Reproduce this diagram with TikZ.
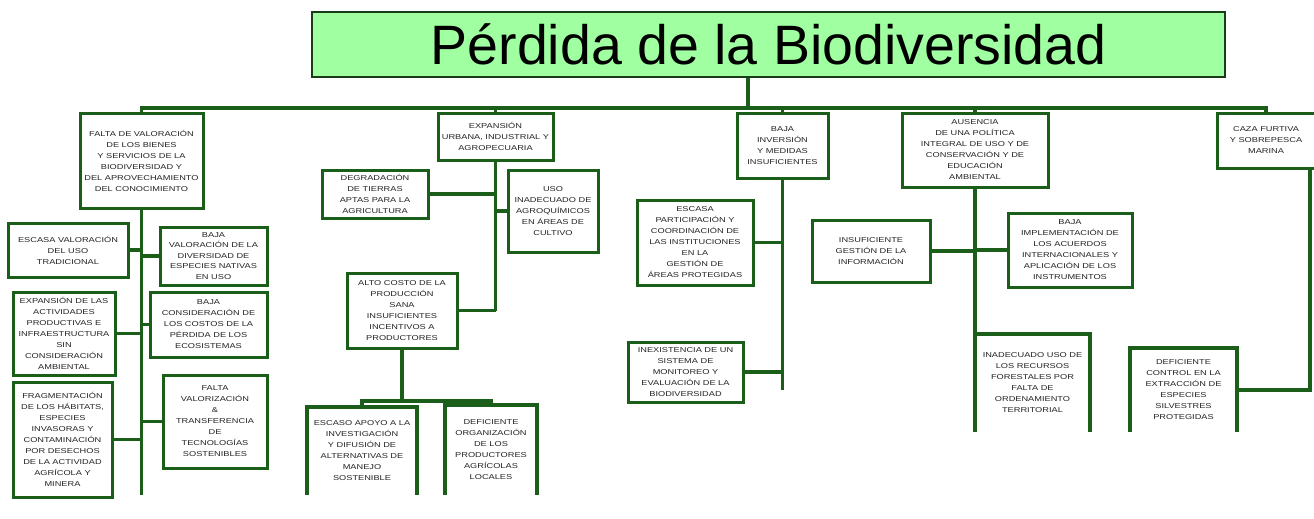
\documentclass[tikz,border=0pt]{standalone}
\usepackage{fontspec}
\setmainfont{Liberation Sans}
\newfontfamily\bxfont[FakeStretch=1.3]{Liberation Sans}
\definecolor{lineg}{RGB}{26,94,26}
\definecolor{titlefill}{RGB}{160,255,160}
\definecolor{titleline}{RGB}{25,60,25}
\definecolor{txtc}{RGB}{35,35,35}
\tikzset{
  bx/.style={draw=lineg, line width=3pt, fill=white, inner sep=0pt, outer sep=0pt,
    align=center, font=\bxfont\fontsize{7.1}{11}\selectfont, text=txtc},
  obx/.style={bx, draw=none},
  conn/.style={draw=lineg, line width=3.2pt},
}
\begin{document}
\begin{tikzpicture}[x=1pt,y=-1pt]
\useasboundingbox (0,0) rectangle (1314,519);
\fill[white] (0,0) rectangle (1314,519);

\node[draw=titleline, line width=1.6pt, fill=titlefill, minimum width=913pt, minimum height=65pt,
  inner sep=0pt, font=\fontsize{55.5}{60}\selectfont] (title) at (768.5,44.5) {Pérdida de la Biodiversidad};

% top level
\node[bx, minimum width=123pt, minimum height=95pt] (A) at (141.5,160.5)
  {FALTA DE VALORACIÓN\\DE LOS BIENES\\Y SERVICIOS DE LA\\BIODIVERSIDAD Y\\DEL APROVECHAMIENTO\\DEL CONOCIMIENTO};
\node[bx, minimum width=115pt, minimum height=47pt] (B) at (495.5,136.5)
  {EXPANSIÓN\\URBANA, INDUSTRIAL Y\\AGROPECUARIA};
\node[bx, minimum width=91pt, minimum height=65pt] (C) at (782.5,145.5)
  {BAJA\\INVERSIÓN\\Y MEDIDAS\\INSUFICIENTES};
\node[bx, minimum width=146pt, minimum height=74pt] (D) at (975,150)
  {AUSENCIA\\DE UNA POLÍTICA\\INTEGRAL DE USO Y DE\\CONSERVACIÓN Y DE\\EDUCACIÓN\\AMBIENTAL};
\node[bx, minimum width=98pt, minimum height=55pt] (E) at (1266,140.5)
  {CAZA FURTIVA\\Y SOBREPESCA\\MARINA};

% left branch
\node[bx, minimum width=120pt, minimum height=54pt] (F) at (68,250)
  {ESCASA VALORACIÓN\\DEL USO\\TRADICIONAL};
\node[bx, minimum width=107pt, minimum height=58pt, font=\bxfont\fontsize{7.1}{10.5}\selectfont] (G) at (213.5,256)
  {BAJA\\VALORACIÓN DE LA\\DIVERSIDAD DE\\ESPECIES NATIVAS\\EN USO};
\node[bx, minimum width=102pt, minimum height=83pt] (H) at (64,333.5)
  {EXPANSIÓN DE LAS\\ACTIVIDADES\\PRODUCTIVAS E\\INFRAESTRUCTURA\\SIN\\CONSIDERACIÓN\\AMBIENTAL};
\node[bx, minimum width=117pt, minimum height=65pt] (I) at (208.5,324.5)
  {BAJA\\CONSIDERACIÓN DE\\LOS COSTOS DE LA\\PÉRDIDA DE LOS\\ECOSISTEMAS};
\node[bx, minimum width=99pt, minimum height=115pt] (J) at (62.5,439.5)
  {FRAGMENTACIÓN\\DE LOS HÁBITATS,\\ESPECIES\\INVASORAS Y\\CONTAMINACIÓN\\POR DESECHOS\\DE LA ACTIVIDAD\\AGRÍCOLA Y\\MINERA};
\node[bx, minimum width=104pt, minimum height=93pt] (K) at (215,421.5)
  {FALTA\\VALORIZACIÓN\\\&\\TRANSFERENCIA\\DE\\TECNOLOGÍAS\\SOSTENIBLES};

% middle branch
\node[bx, minimum width=106pt, minimum height=48pt] (L) at (375,194)
  {DEGRADACIÓN\\DE TIERRAS\\APTAS PARA LA\\AGRICULTURA};
\node[bx, minimum width=90pt, minimum height=82pt] (M) at (553,211)
  {USO\\INADECUADO DE\\AGROQUÍMICOS\\EN ÁREAS DE\\CULTIVO};
\node[bx, minimum width=110pt, minimum height=75pt] (N) at (402,310.5)
  {ALTO COSTO DE LA\\PRODUCCIÓN\\SANA\\INSUFICIENTES\\INCENTIVOS A\\PRODUCTORES};
\node[obx, minimum width=110pt, minimum height=88pt] (O) at (362,451)
  {ESCASO APOYO A LA\\INVESTIGACIÓN\\Y DIFUSIÓN DE\\ALTERNATIVAS DE\\MANEJO\\SOSTENIBLE};
\node[obx, minimum width=92pt, minimum height=90pt] (P) at (491,450)
  {DEFICIENTE\\ORGANIZACIÓN\\DE LOS\\PRODUCTORES\\AGRÍCOLAS\\LOCALES};

% centre-right branch
\node[bx, minimum width=116pt, minimum height=85pt] (Q) at (695,242.5)
  {ESCASA\\PARTICIPACIÓN Y\\COORDINACIÓN DE\\LAS INSTITUCIONES\\EN LA\\GESTIÓN DE\\ÁREAS PROTEGIDAS};
\node[bx, minimum width=115pt, minimum height=60pt] (R) at (685.5,372)
  {INEXISTENCIA DE UN\\SISTEMA DE\\MONITOREO Y\\EVALUACIÓN DE LA\\BIODIVERSIDAD};

% right branch
\node[bx, minimum width=118pt, minimum height=62pt] (S) at (871,251)
  {INSUFICIENTE\\GESTIÓN DE LA\\INFORMACIÓN};
\node[bx, minimum width=124pt, minimum height=74pt] (T) at (1070,250)
  {BAJA\\IMPLEMENTACIÓN DE\\LOS ACUERDOS\\INTERNACIONALES Y\\APLICACIÓN DE LOS\\INSTRUMENTOS};
\node[obx, minimum width=115pt, minimum height=98pt] (U) at (1032.5,383)
  {INADECUADO USO DE\\LOS RECURSOS\\FORESTALES POR\\FALTA DE\\ORDENAMIENTO\\TERRITORIAL};
\node[obx, minimum width=107pt, minimum height=84pt] (V) at (1183.5,390)
  {DEFICIENTE\\CONTROL EN LA\\EXTRACCIÓN DE\\ESPECIES\\SILVESTRES\\PROTEGIDAS};

% open boxes
\draw[conn] (O.south west) -- (O.north west) -- (O.north east) -- (O.south east);
\draw[conn] (P.south west) -- (P.north west) -- (P.north east) -- (P.south east);
\draw[conn] (U.north west) -- (U.north east) -- (U.south east);
\draw[conn] (V.south west) -- (V.north west) -- (V.north east) -- (V.south east);

% connectors
\coordinate (bus) at (748,108);
\draw[conn] (bus |- title.south) -- (bus);
\draw[conn] (A.north) |- (bus);
\draw[conn] (E.north) |- (bus);
\draw[conn] (B.north) -- (B.north |- bus);
\draw[conn] (C.north) -- (C.north |- bus);
\draw[conn] (D.north) -- (D.north |- bus);

\coordinate (ls) at (141.5,495);
\draw[conn] (A.south) -- (ls);
\draw[conn] (F.east) -- (F.east -| ls);
\draw[conn] (G.west) -- (G.west -| ls);
\draw[conn] (H.east) -- (H.east -| ls);
\draw[conn] (I.west) -- (I.west -| ls);
\draw[conn] (J.east) -- (J.east -| ls);
\draw[conn] (K.west) -- (K.west -| ls);

\coordinate (bs) at (495.5,310.5);
\draw[conn] (B.south) -- (bs);
\draw[conn] (L.east) -- (L.east -| bs);
\draw[conn] (M.west) -- (M.west -| bs);
\draw[conn] (N.east) -- (bs);
\coordinate (op) at (402,401);
\draw[conn] (N.south) -- (op);
\draw[conn] (O.north) |- (op) -| (P.north);

\coordinate (cs) at (782.5,390);
\draw[conn] (C.south) -- (cs);
\draw[conn] (Q.east) -- (Q.east -| cs);
\draw[conn] (R.east) -- (R.east -| cs);

\draw[conn] (D.south) -- (U.south west);
\draw[conn] (S.east) -- (S.east -| D.south);
\draw[conn] (T.west) -- (T.west -| D.south);

\coordinate (es) at (1310,392);
\draw[conn] (V.east) -- (V.east -| es) -- (es |- E.south);
\end{tikzpicture}
\end{document}
